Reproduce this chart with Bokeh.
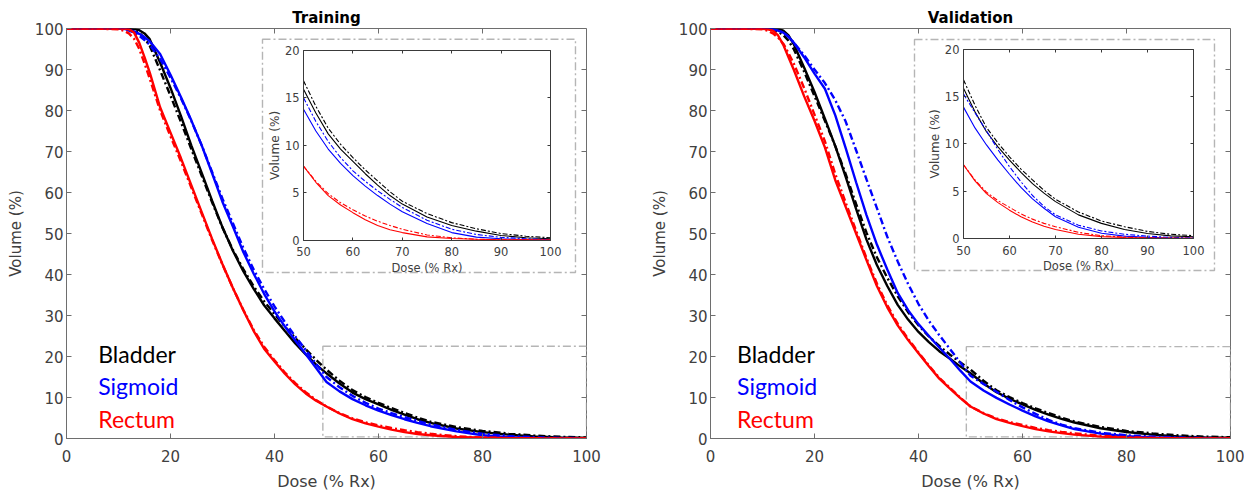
import numpy as np
from bokeh.plotting import figure
from bokeh.layouts import row
from bokeh.models import Range1d, LinearAxis, FixedTicker
from bokeh.core.properties import value
from bokeh.embed import file_html
from bokeh.resources import INLINE

# ---------------- data ----------------
DOSE = [0, 5, 10, 11, 12, 13, 14, 15, 16, 18, 20, 22, 24, 26, 28, 30, 32, 34, 36, 38,
        40, 42, 44, 46, 48, 50, 52.5, 55, 57.5, 60, 62.5, 65, 67.5, 70, 75, 80, 85, 90, 95, 100]

ORGANS = ["Bladder", "Sigmoid", "Rectum"]
COLORS = ["#000000", "#0000ff", "#ff0000"]

# Training (solid = clinical, dash-dot = predicted)
TR_BLADDER = [100, 100, 100, 100, 100, 99.9, 99.6, 98.8, 97.4, 91.7, 85.5, 78.7, 71.5, 64.8, 58, 51.5, 45.8, 40.8, 36.5, 32.5,
              29.3, 26.2, 23.2, 20.5, 18.0, 15.9, 13.4, 11.2, 9.6, 8.3, 7.0, 5.8, 4.7, 3.8, 2.45, 1.55, 0.95, 0.5, 0.25, 0.15]
TR_BLADDER_P = [100, 100, 100, 100, 99.9, 99.6, 99, 97.6, 95.8, 89.8, 83.6, 77.2, 70.6, 64.1, 57.6, 51.4, 46, 41.3, 37.1, 33.5,
                30.3, 27.3, 24.5, 21.8, 19.2, 16.8, 14.1, 11.8, 10.1, 8.7, 7.4, 6.25, 5.1, 4.1, 2.8, 1.85, 1.2, 0.7, 0.42, 0.25]
TR_SIGMOID = [100, 100, 100, 99.9, 99.7, 99.3, 98.7, 97.9, 96.9, 93.8, 88.7, 83.3, 77.6, 71.5, 64.7, 57.7, 51.7, 45.5, 40.2, 35.3,
              31.0, 27.3, 23.9, 20.6, 17.2, 13.8, 11.5, 9.6, 8.1, 6.8, 5.7, 4.7, 3.8, 3.0, 1.75, 0.8, 0.32, 0.15, 0.07, 0.03]
TR_SIGMOID_P = [100, 100, 100, 99.8, 99.5, 99, 98.2, 97.2, 96, 92.6, 88, 83, 77.5, 71.5, 65, 58.5, 52.5, 46.5, 41.2, 36.5,
                32.2, 28.4, 24.9, 21.6, 18.2, 15.0, 12.5, 10.4, 8.7, 7.3, 6.2, 5.2, 4.3, 3.45, 2.1, 1.15, 0.6, 0.3, 0.15, 0.07]
TR_RECTUM = [100, 100, 100, 100, 99.8, 99, 96.5, 93, 89.3, 80.8, 74.6, 68.4, 61.8, 55.2, 48.7, 42.5, 36.7, 31.3, 26.2, 21.9,
             18.8, 15.8, 13.2, 11, 9.2, 7.8, 6.1, 4.7, 3.7, 2.9, 2.15, 1.55, 1.1, 0.8, 0.35, 0.18, 0.1, 0.05, 0.03, 0.02]
TR_RECTUM_P = [100, 100, 99.8, 99.5, 98.8, 97.5, 95, 91.5, 87.8, 80, 73.7, 67.6, 61.2, 54.8, 48.4, 42.4, 36.7, 31.4, 26.5, 22.4,
               19.1, 16.1, 13.5, 11.3, 9.4, 7.8, 6.2, 4.9, 3.95, 3.2, 2.55, 2.0, 1.55, 1.15, 0.55, 0.25, 0.1, 0.05, 0.03, 0.02]

# Validation
VA_BLADDER = [100, 100, 100, 100, 100, 99.9, 99.5, 98.3, 96.2, 90.5, 84.5, 78, 71.3, 63.8, 56, 48.5, 42.3, 37.2, 32.6, 29,
              26, 23.5, 21.3, 19.5, 17.6, 15.9, 13.4, 11.3, 9.7, 8.3, 7.0, 5.8, 4.8, 3.9, 2.5, 1.6, 0.95, 0.53, 0.28, 0.18]
VA_BLADDER_P = [100, 100, 100, 99.9, 99.7, 99.2, 98.4, 97, 95, 89.5, 83.5, 77.5, 71.3, 64.5, 57.2, 50.2, 44.2, 39.2, 34.7, 30.8,
                27.6, 24.9, 22.6, 20.5, 18.6, 16.8, 14.1, 11.75, 10.1, 8.65, 7.35, 6.2, 5.1, 4.15, 2.8, 1.85, 1.25, 0.75, 0.45, 0.3]
VA_SIGMOID = [100, 100, 100, 100, 99.8, 99.5, 99, 98, 96.6, 93, 89, 85.3, 78.8, 70.8, 62.5, 54.5, 47.3, 41.2, 35.5, 31.3,
              27.9, 25, 22.2, 19.5, 16.6, 13.9, 11.7, 9.9, 8.3, 6.8, 5.4, 4.2, 3.2, 2.3, 1.2, 0.55, 0.25, 0.12, 0.06, 0.03]
VA_SIGMOID_P = [100, 100, 100, 100, 99.8, 99.5, 99, 98, 96.6, 93.5, 90, 86.7, 82.5, 77.3, 70.3, 63.2, 56.2, 49.2, 43.2, 37.7,
                32.8, 28.7, 25.2, 21.9, 18.6, 15.3, 13.3, 11.4, 9.4, 7.6, 6.0, 4.55, 3.4, 2.5, 1.4, 0.8, 0.45, 0.25, 0.12, 0.06]
VA_RECTUM = [100, 100, 99.9, 99.8, 99.5, 98.3, 96, 93, 90, 83.5, 77.5, 71, 63, 56.5, 50, 43.5, 37.2, 32, 27.6, 24,
             20.8, 17.6, 14.6, 12.2, 9.9, 7.8, 6.1, 4.75, 3.8, 3.0, 2.3, 1.75, 1.3, 0.95, 0.45, 0.2, 0.1, 0.05, 0.03, 0.02]
VA_RECTUM_P = [100, 100, 99.8, 99.5, 98.8, 97.8, 96.3, 94, 91.5, 85.5, 79, 72.5, 64.5, 57.5, 50.7, 44, 37.8, 32.5, 28, 24.3,
               21, 17.8, 14.8, 12.4, 10, 7.8, 6.2, 4.9, 4.0, 3.3, 2.6, 2.05, 1.6, 1.25, 0.65, 0.3, 0.15, 0.07, 0.04, 0.02]

X_TICKS = [0, 20, 40, 60, 80, 100]
Y_TICKS = [0, 10, 20, 30, 40, 50, 60, 70, 80, 90, 100]
INSET_X_TICKS = [50, 60, 70, 80, 90, 100]
INSET_Y_TICKS = [0, 5, 10, 15, 20]
INSET_X_RANGE = (50, 100)
INSET_Y_RANGE = (0, 20)

# ---------------- layout constants ----------------
AX_COLOR = "#6e6e6e"
LABEL_COLOR = "#404040"
BOX_COLOR = "#b5b5b5"
FONT = "DejaVu Sans"
MAIN_DASH = "7 3 2 3"
INSET_DASH = "5 2 2 2"
BOX_DASH = "8 3 2 3"


def hide_labels(ax, ticks):
    ax.major_label_overrides = {t: "" for t in ticks}
    ax.major_label_text_font_size = "0px"
    ax.major_label_standoff = 0


def style_axis(ax, ticks, size, color=AX_COLOR, tick_in=5):
    ax.ticker = FixedTicker(ticks=ticks)
    ax.major_tick_in = tick_in
    ax.major_tick_out = 0
    ax.minor_tick_line_color = None
    ax.axis_line_color = color
    ax.major_tick_line_color = color
    ax.major_label_text_font = FONT
    ax.major_label_text_font_size = size
    ax.major_label_text_color = LABEL_COLOR
    ax.axis_label_text_font = FONT
    ax.axis_label_text_font_style = "normal"
    ax.axis_label_text_color = LABEL_COLOR


def make_panel(title, series, width, border_left, border_right,
               inset_box, outer_box, zoom_box, legend_x, legend_y):
    p = figure(width=width, height=494, x_range=Range1d(0, 100), y_range=Range1d(0, 100),
               output_backend="svg", toolbar_location=None,
               min_border_left=border_left, min_border_right=border_right,
               min_border_top=28, min_border_bottom=56, title=title)
    p.title.align = "center"
    p.title.text_font = FONT
    p.title.text_font_size = "15px"
    p.title.text_font_style = "bold"
    p.title.text_color = "#000000"
    p.title.standoff = 4
    p.grid.visible = False
    p.outline_line_color = AX_COLOR
    p.background_fill_color = "white"
    p.border_fill_color = "white"

    # main axes
    xa = p.xaxis[0]
    ya = p.yaxis[0]
    style_axis(xa, X_TICKS, "15px")
    style_axis(ya, Y_TICKS, "15px")
    xa.major_label_standoff = 11
    ya.major_label_standoff = 3
    xa.axis_label = "Dose (% Rx)"
    xa.axis_label_text_font_size = "16px"
    xa.axis_label_standoff = 7
    ya.axis_label = "Volume (%)"
    ya.axis_label_text_font_size = "15px"
    ya.axis_label_standoff = 7

    top = LinearAxis(fixed_location=100)
    style_axis(top, X_TICKS, "0px")
    hide_labels(top, X_TICKS)
    top.axis_line_color = None
    p.add_layout(top, "above")
    right = LinearAxis(fixed_location=100)
    style_axis(right, Y_TICKS, "0px")
    hide_labels(right, Y_TICKS)
    right.axis_line_color = None
    p.add_layout(right, "right")

    # inset coordinate system mapped onto the inset rectangle
    x0, x1, y0, y1 = inset_box
    sx = (INSET_X_RANGE[1] - INSET_X_RANGE[0]) / (x1 - x0)
    sy = (INSET_Y_RANGE[1] - INSET_Y_RANGE[0]) / (y1 - y0)
    p.extra_x_ranges = {"ix": Range1d(INSET_X_RANGE[0] - x0 * sx, INSET_X_RANGE[1] + (100 - x1) * sx)}
    p.extra_y_ranges = {"iy": Range1d(INSET_Y_RANGE[0] - y0 * sy, INSET_Y_RANGE[1] + (100 - y1) * sy)}

    # dash-dot boxes
    for (l, r, b, t) in (outer_box, zoom_box):
        p.quad(left=[l], right=[r], bottom=[b], top=[t], fill_color=None,
               line_color=BOX_COLOR, line_width=1.4, line_dash=BOX_DASH)

    dose = np.array(DOSE, dtype=float)
    mask = dose >= INSET_X_RANGE[0]

    # curves
    for color, (actual, pred) in zip(COLORS, series):
        p.line(DOSE, actual, line_color=color, line_width=2.4)
        p.line(DOSE, pred, line_color=color, line_width=2.4, line_dash=MAIN_DASH)
        p.line(dose[mask], np.array(actual)[mask], line_color=color, line_width=1.1,
               x_range_name="ix", y_range_name="iy")
        p.line(dose[mask], np.array(pred)[mask], line_color=color, line_width=1.1,
               line_dash=INSET_DASH, x_range_name="ix", y_range_name="iy")

    # inset axes
    ibx = LinearAxis(x_range_name="ix", y_range_name="iy", fixed_location=INSET_Y_RANGE[0],
                     bounds=INSET_X_RANGE, axis_label="Dose (% Rx)")
    style_axis(ibx, INSET_X_TICKS, "11.5px", color="#3a3a3a", tick_in=3)
    ibx.major_label_standoff = 7
    ibx.axis_label_text_font_size = "11.5px"
    ibx.axis_label_standoff = 1
    p.add_layout(ibx, "below")

    ily = LinearAxis(x_range_name="ix", y_range_name="iy", fixed_location=INSET_X_RANGE[0],
                     bounds=INSET_Y_RANGE, axis_label="Volume (%)")
    style_axis(ily, INSET_Y_TICKS, "11.5px", color="#3a3a3a", tick_in=3)
    ily.major_label_standoff = 4
    ily.axis_label_text_font_size = "12px"
    ily.axis_label_standoff = 0
    p.add_layout(ily, "left")

    itop = LinearAxis(x_range_name="ix", y_range_name="iy", fixed_location=INSET_Y_RANGE[1],
                      bounds=INSET_X_RANGE)
    style_axis(itop, INSET_X_TICKS, "0px", color="#3a3a3a", tick_in=3)
    hide_labels(itop, INSET_X_TICKS)
    p.add_layout(itop, "above")

    iright = LinearAxis(x_range_name="ix", y_range_name="iy", fixed_location=INSET_X_RANGE[1],
                        bounds=INSET_Y_RANGE)
    style_axis(iright, INSET_Y_TICKS, "0px", color="#3a3a3a", tick_in=3)
    hide_labels(iright, INSET_Y_TICKS)
    p.add_layout(iright, "right")

    # organ labels
    p.text(x=[legend_x] * 3, y=legend_y, text=ORGANS, text_color=COLORS,
           text_font=value("Lato"), text_font_size="23px", text_baseline="alphabetic",
           text_align="left")
    return p


LEGEND_Y = [20.5, 12.7, 4.8]

left = make_panel("Training",
                  [(TR_BLADDER, TR_BLADDER_P), (TR_SIGMOID, TR_SIGMOID_P), (TR_RECTUM, TR_RECTUM_P)],
                  width=640, border_left=66, border_right=54,
                  inset_box=(45.58, 93.08, 48.37, 94.68),
                  outer_box=(37.69, 97.88, 40.49, 97.39),
                  zoom_box=(49.3, 100, 0.4, 22.5),
                  legend_x=6.1, legend_y=LEGEND_Y)

right = make_panel("Validation",
                   [(VA_BLADDER, VA_BLADDER_P), (VA_SIGMOID, VA_SIGMOID_P), (VA_RECTUM, VA_RECTUM_P)],
                   width=604, border_left=70, border_right=14,
                   inset_box=(48.65, 92.88, 48.78, 94.88),
                   outer_box=(39.23, 96.92, 40.98, 97.32),
                   zoom_box=(49.2, 100, 0.4, 22.4),
                   legend_x=5.1, legend_y=LEGEND_Y)

p = row(left, right)
open("out.html", "w").write(file_html(p, INLINE))
